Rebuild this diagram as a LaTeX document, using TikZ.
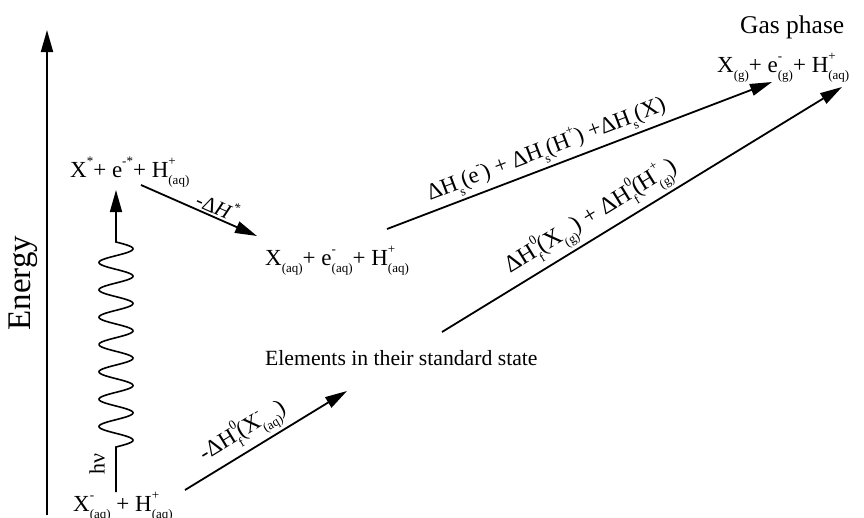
\documentclass[tikz,border=0pt]{standalone}
\usepackage{fontspec}
\setmainfont{Liberation Serif}
\usetikzlibrary{arrows.meta}
\newcommand\Sb[1]{\raisebox{-0.32em}{\fontsize{13}{13}\selectfont #1}}
\newcommand\Sp[1]{\raisebox{0.52em}{\fontsize{13}{13}\selectfont #1}}
\newcommand\SpSb[2]{\makebox[0pt][l]{\Sp{#1}}\Sb{#2}}
\tikzset{
  state/.style={anchor=base west, inner sep=0pt, font=\fontsize{23}{26}\selectfont},
  lab/.style={sloped, above, inner sep=3pt, font=\fontsize{23}{26}\selectfont},
  conn/.style={line width=1.8pt, -{Triangle[length=22pt,width=12pt]}},
}
\begin{document}
\begin{tikzpicture}[x=1pt,y=-1pt]
\useasboundingbox (0,0) rectangle (864,517);
% energy axis
\coordinate (eb) at (47,515);
\coordinate (et) at (47,30);
\draw[conn] (eb) -- (et);
\node[rotate=90, font=\fontsize{33}{36}\selectfont, inner sep=0pt] (energy) at (23,283) {Energy};
% states
\node[state] (n0) at (73,511) {X\SpSb{-}{(aq)} + H\SpSb{+}{(aq)}};
\node[state] (n1) at (70,177) {X\Sp{*}+ e\Sp{-*}+ H\SpSb{+}{(aq)}};
\node[state] (n2) at (265,265) {X\Sb{(aq)}+ e\SpSb{-}{(aq)}+ H\SpSb{+}{(aq)}};
\node[state] (n3) at (717,72) {X\Sb{(g)}+ e\SpSb{-}{(g)}+ H\SpSb{+}{(aq)}};
\node[state, font=\fontsize{25.5}{29}\selectfont] (gas) at (740,33) {Gas phase};
\node[state, font=\fontsize{21.7}{25}\selectfont] (elem) at (265,365) {Elements in their standard state};
% photon
\coordinate (w0) at (116,492);
\coordinate (w1) at (116,447);
\coordinate (w2) at (116,190);
\draw[line width=1.6pt, -{Triangle[length=22pt,width=12pt]}] (w0) -- (w1)
  -- plot[domain=0:205, samples=300, smooth] ({116+17*sin(\x*13.17073)},{447-\x}) -- (w2);
\node[rotate=90, inner sep=0pt, font=\fontsize{22}{24}\selectfont] (hv) at (97,464) {hν};
% -dH*
\coordinate (a0s) at (141,185);
\coordinate (a0e) at (257,236);
\draw[conn] (a0s) -- node[lab, pos=0.62, inner sep=2pt, font=\fontsize{21}{24}\selectfont] (l0) {-Δ\textit{H}\Sp{*}} (a0e);
% line 1
\coordinate (a1s) at (387,229);
\coordinate (a1e) at (772,82);
\draw[conn] (a1s) -- node[lab, pos=0.43] (l1) {ΔH\Sb{s}(e\Sp{-}) + ΔH\Sb{s}(H\Sp{+}) +ΔH\Sb{s}(X)} (a1e);
% line 2
\coordinate (a2s) at (442,332);
\coordinate (a2e) at (842,87);
\draw[conn] (a2s) -- node[lab, pos=0.4, font=\fontsize{24}{27}\selectfont] (l2) {ΔH\SpSb{0}{f}(X\Sb{(g)}) + ΔH\SpSb{0}{f}(H\SpSb{+}{(g)})} (a2e);
% line 3
\coordinate (a3s) at (185,490);
\coordinate (a3e) at (347,391);
\draw[conn] (a3s) -- node[lab, pos=0.42] (l3) {-ΔH\SpSb{0}{f}(X\SpSb{-}{(aq)})} (a3e);
\end{tikzpicture}
\end{document}
